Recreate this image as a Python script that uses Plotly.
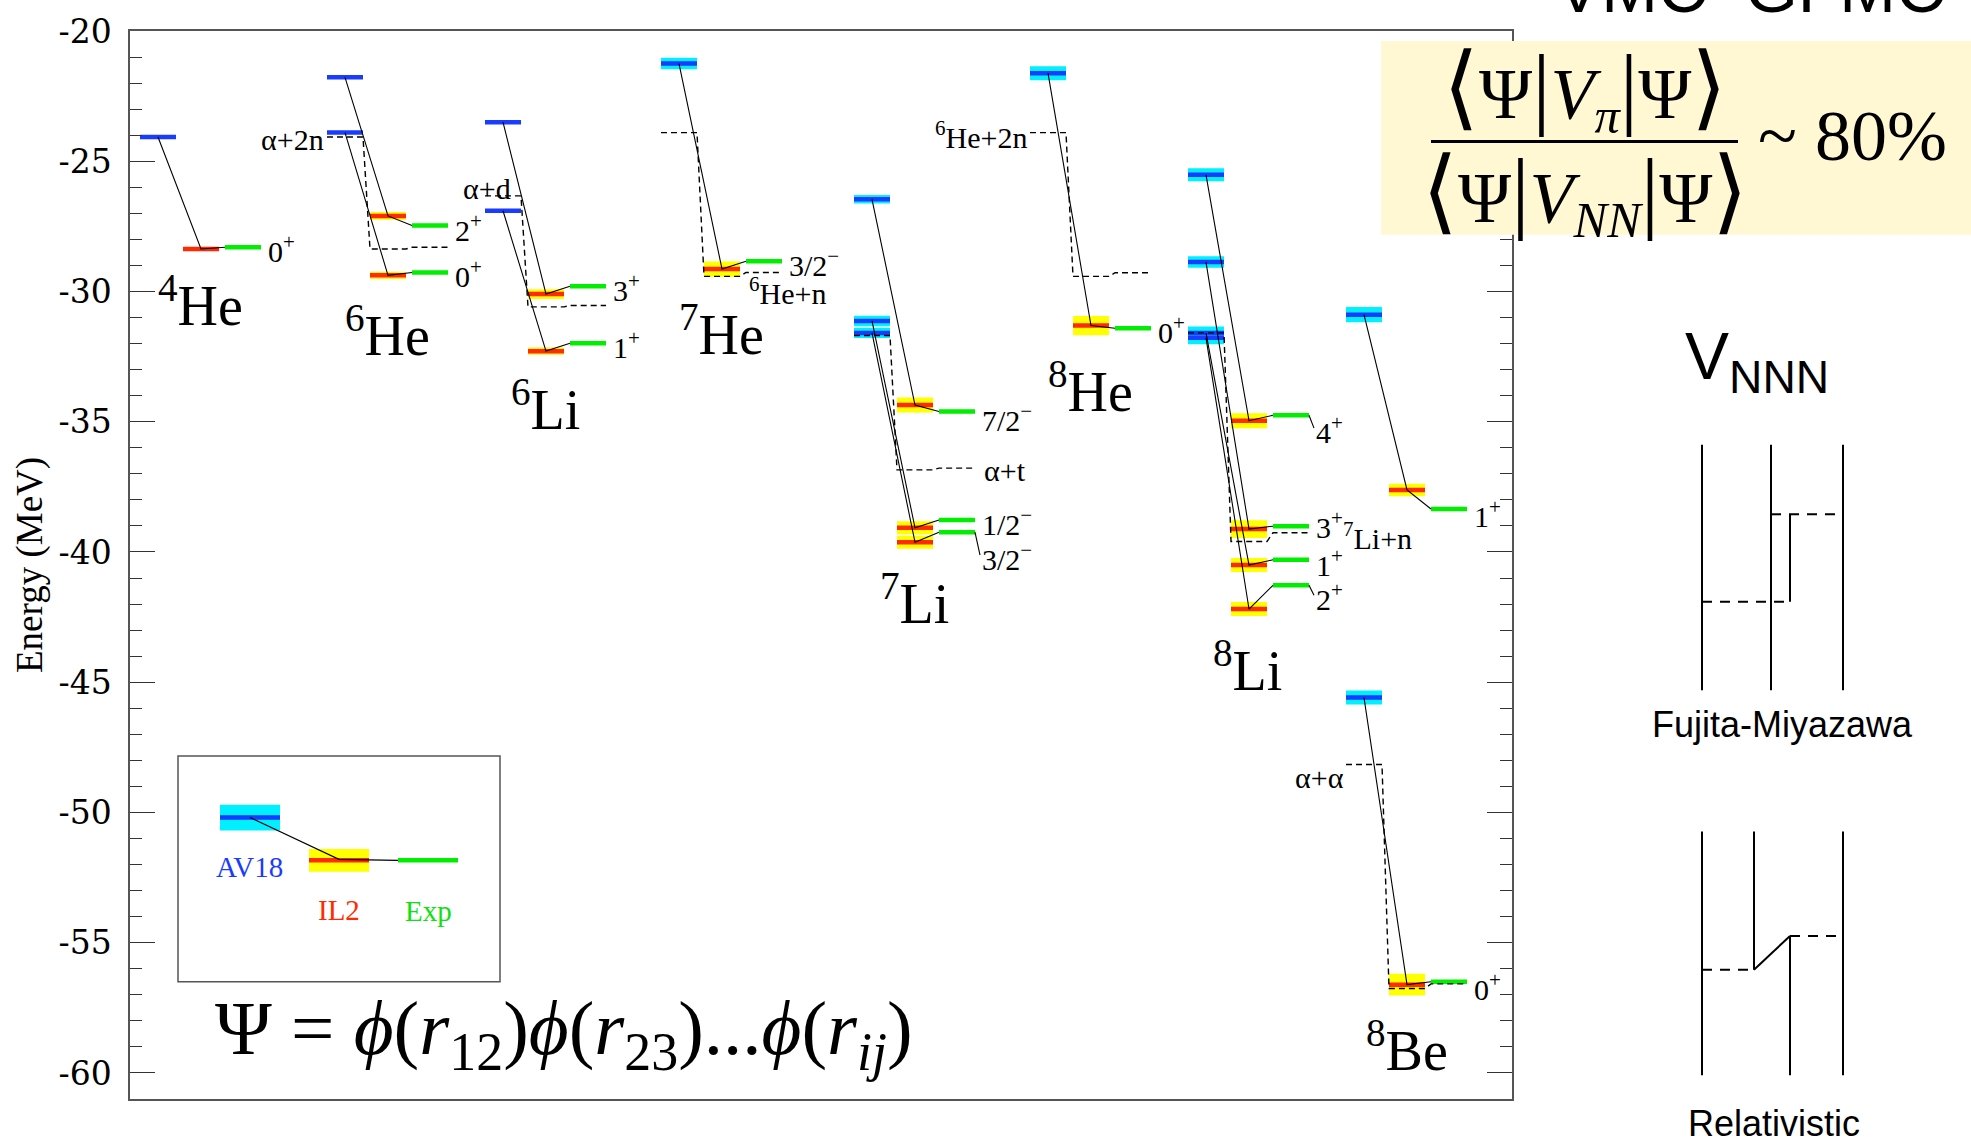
import plotly.graph_objects as go

# ------------------------------------------------------------------ data
nuclei = ["4He", "6He", "6Li", "7He", "7Li", "8He", "8Li", "8Be"]
nucleus_names = ["<sup>4</sup>He", "<sup>6</sup>He", "<sup>6</sup>Li", "<sup>7</sup>He",
                 "<sup>7</sup>Li", "<sup>8</sup>He", "<sup>8</sup>Li", "<sup>8</sup>Be"]

level_nucleus = ["4He", "6He", "6He", "6Li", "6Li", "7He", "7Li", "7Li", "7Li",
                 "8He", "8Li", "8Li", "8Li", "8Li", "8Be", "8Be"]
level_jpi = ["0<sup>+</sup>", "0<sup>+</sup>", "2<sup>+</sup>", "1<sup>+</sup>", "3<sup>+</sup>",
             "3/2<sup>−</sup>", "3/2<sup>−</sup>", "1/2<sup>−</sup>", "7/2<sup>−</sup>",
             "0<sup>+</sup>", "2<sup>+</sup>", "1<sup>+</sup>", "3<sup>+</sup>", "4<sup>+</sup>",
             "1<sup>+</sup>", "0<sup>+</sup>"]
e_av18 = [-24.07, -23.90, -21.78, -26.90, -23.50, -21.25, -31.59, -31.13, -26.46,
          -21.62, -31.78, -31.59, -28.87, -25.52, -30.89, -45.59]
err_av18 = [0.0, 0.05, 0.06, 0.05, 0.05, 0.22, 0.20, 0.20, 0.16,
            0.27, 0.25, 0.25, 0.22, 0.25, 0.29, 0.27]
e_il2 = [-28.37, -29.38, -27.10, -32.29, -30.10, -29.14, -39.63, -39.07, -34.36,
         -31.31, -42.19, -40.50, -39.12, -34.96, -37.62, -56.61]
err_il2 = [0.03, 0.14, 0.15, 0.14, 0.19, 0.29, 0.25, 0.25, 0.29,
           0.37, 0.27, 0.27, 0.34, 0.29, 0.24, 0.42]
e_exp = [-28.30, -29.27, -27.47, -31.99, -29.80, -28.84, -39.24, -38.77, -34.61,
         -31.41, -41.28, -40.30, -39.01, -34.75, -38.35, -56.50]

threshold_nucleus = ["6He", "6Li", "7He", "7Li", "8He", "8Li", "8Be"]
threshold_names = ["α+2n", "α+d", "<sup>6</sup>He+n", "α+t", "<sup>6</sup>He+2n",
                   "<sup>7</sup>Li+n", "α+α"]
thr_av18 = [-24.07, -26.33, -23.90, -31.69, -23.90, -31.59, -48.16]
thr_il2 = [-28.37, -30.59, -29.42, -36.85, -29.42, -39.60, -56.76]
thr_exp = [-28.30, -30.54, -29.27, -36.78, -29.28, -39.26, -56.58]

series_names = ["AV18", "IL2", "Exp"]

y_tick_values = [-60, -55, -50, -45, -40, -35, -30, -25, -20]
y_tick_text = ["-60", "-55", "-50", "-45", "-40", "-35", "-30", "-25", "-20"]
y_title = "Energy (MeV)"

# ------------------------------------------------------------------ layout / style
W, H = 1971, 1144
PL, PR, PT, PB = 130, 1512, 25, 1099   # plot area in pixels
Y_RANGE = [-61, -20]
PX_PER_MEV = (PB - PT) / (Y_RANGE[1] - Y_RANGE[0])

COL_X = {"4He": 10, "6He": 197, "6Li": 355, "7He": 531, "7Li": 724,
         "8He": 900, "8Li": 1058, "8Be": 1216}
BAR_W, IL2_OFF, EXP_OFF = 36, 43, 85

NUC_LABEL_PX = {"4He": (200, 297), "6He": (387, 327), "6Li": (545, 402), "7He": (721, 326),
                "7Li": (914, 597), "8He": (1090, 384), "8Li": (1247, 664), "8Be": (1407, 1046)}
LEVEL_LABEL_DY = [0, 0, 0, 0, 0, 0, 23, 0, 4, 0, 10, 1, -3, 13, 3, 3]
LEVEL_LEADER = [False, False, False, False, False, False, True, False, False,
                False, True, False, False, True, False, False]
# anchor, x offset from column (px), reference level, dy (px)
THR_LABEL = [("right", -2, "av", 0), ("right", 27, "av", -9), ("left", 87, "exp", 17),
             ("left", 129, "exp", 0), ("right", -2, "av", 0), ("left", 154, "exp", 1),
             ("right", -1, "av", 11)]

BLUE, CYAN = "#1a3cff", "#00f0ff"
RED, YELLOW = "#ff2a00", "#ffff00"
GREEN = "#00ee00"
CREAM = "#fff8d2"
SERIF = "Liberation Serif, Times New Roman, serif"
SANS = "Liberation Sans, Arial, sans-serif"


def xpaper(px):
    return (px - PL) / (PR - PL)


def ypaper(py):
    return 1 - (py - PT) / (PB - PT)


def xdata(px):
    return px - PL


def ydata(py):
    return Y_RANGE[1] - (py - PT) / PX_PER_MEV


fig = go.Figure()


def poly_trace(xs, ys, color):
    fig.add_trace(go.Scatter(x=xs, y=ys, mode="lines", fill="toself", fillcolor=color,
                             line=dict(width=0, color=color), hoverinfo="skip", showlegend=False))


def line_trace(xs, ys, color, width, dash="solid"):
    fig.add_trace(go.Scatter(x=xs, y=ys, mode="lines", line=dict(color=color, width=width, dash=dash),
                             hoverinfo="skip", showlegend=False))


# halos
for off, energies, errs, color in [(0, e_av18, err_av18, CYAN), (IL2_OFF, e_il2, err_il2, YELLOW)]:
    xs, ys = [], []
    for n, e, er in zip(level_nucleus, energies, errs):
        if er <= 0:
            continue
        x0 = COL_X[n] + off
        x1 = x0 + BAR_W
        xs += [x0, x1, x1, x0, x0, None]
        ys += [e - er, e - er, e + er, e + er, e - er, None]
    poly_trace(xs, ys, color)

# bars
for off, energies, color in [(0, e_av18, BLUE), (IL2_OFF, e_il2, RED), (EXP_OFF, e_exp, GREEN)]:
    xs, ys = [], []
    for n, e in zip(level_nucleus, energies):
        x0 = COL_X[n] + off
        xs += [x0, x0 + BAR_W, None]
        ys += [e, e, None]
    line_trace(xs, ys, color, 4.5)

# connectors
xs, ys = [], []
for n, a, b, c in zip(level_nucleus, e_av18, e_il2, e_exp):
    x0 = COL_X[n]
    xs += [x0 + BAR_W / 2, x0 + IL2_OFF + BAR_W / 2, x0 + EXP_OFF, None]
    ys += [a, b, c, None]
line_trace(xs, ys, "black", 1.1)

# thresholds (dashed)
xs, ys = [], []
for n, a, b, c in zip(threshold_nucleus, thr_av18, thr_il2, thr_exp):
    x0 = COL_X[n]
    xs += [x0, x0 + BAR_W, x0 + IL2_OFF, x0 + IL2_OFF + BAR_W, x0 + EXP_OFF, x0 + EXP_OFF + BAR_W, None]
    ys += [a, a, b, b, c, c, None]
line_trace(xs, ys, "black", 1.4, dash="6px,4px")

# leader lines for offset labels
xs, ys = [], []
for n, e, dy, lead in zip(level_nucleus, e_exp, LEVEL_LABEL_DY, LEVEL_LEADER):
    if lead:
        xe = COL_X[n] + EXP_OFF + BAR_W
        xs += [xe, xe + 5, None]
        ys += [e, e - dy / PX_PER_MEV, None]
line_trace(xs, ys, "black", 1.1)

annotations = []


def ann(x, y, text, size, family=SERIF, color="black", xanchor="center", yanchor="middle",
        xref="x", yref="y", yshift=0, xshift=0, textangle=0):
    annotations.append(dict(x=x, y=y, xref=xref, yref=yref, text=text, showarrow=False,
                            font=dict(size=size, family=family, color=color),
                            xanchor=xanchor, yanchor=yanchor, yshift=yshift, xshift=xshift,
                            textangle=textangle, borderpad=0))


# level labels
for n, jpi, e, dy, lead in zip(level_nucleus, level_jpi, e_exp, LEVEL_LABEL_DY, LEVEL_LEADER):
    xe = COL_X[n] + EXP_OFF + BAR_W
    ann(xe + 6, e, jpi, 30, xanchor="left", yshift=-(dy + 2))

# threshold labels
for n, name, a, c, spec in zip(threshold_nucleus, threshold_names, thr_av18, thr_exp, THR_LABEL):
    anchor, dx, ref, dy = spec
    e = a if ref == "av" else c
    ann(COL_X[n] + dx, e, name, 30, xanchor=anchor, yshift=-(dy + 2))

# nucleus labels
for n, name in zip(nuclei, nucleus_names):
    px, py = NUC_LABEL_PX[n]
    ann(xdata(px), ydata(py), name, 56)

# y-axis title
ann(xpaper(30), 0.5, y_title, 37, xref="paper", yref="paper", textangle=-90)

shapes = []

# legend box
shapes.append(dict(type="rect", xref="paper", yref="paper", x0=xpaper(178), x1=xpaper(500),
                   y0=ypaper(981), y1=ypaper(754), line=dict(color="#555", width=1.5),
                   fillcolor="rgba(0,0,0,0)", layer="above"))
lg = [(220, 816, 13, CYAN, BLUE), (309, 859, 11.5, YELLOW, RED)]
for x0, yc, hh, hc, bc in lg:
    shapes.append(dict(type="rect", xref="paper", yref="paper", x0=xpaper(x0), x1=xpaper(x0 + 60),
                       y0=ypaper(yc + hh), y1=ypaper(yc - hh), line=dict(width=0), fillcolor=hc, layer="above"))
    shapes.append(dict(type="line", xref="paper", yref="paper", x0=xpaper(x0), x1=xpaper(x0 + 60),
                       y0=ypaper(yc), y1=ypaper(yc), line=dict(color=bc, width=4.5), layer="above"))
shapes.append(dict(type="line", xref="paper", yref="paper", x0=xpaper(398), x1=xpaper(458),
                   y0=ypaper(859), y1=ypaper(859), line=dict(color=GREEN, width=4.5), layer="above"))
shapes.append(dict(type="path", xref="paper", yref="paper",
                   path="M {} {} L {} {} L {} {}".format(xpaper(250), ypaper(816), xpaper(339), ypaper(858),
                                                         xpaper(398), ypaper(859)),
                   line=dict(color="black", width=1.1), layer="above"))
ann(xpaper(249), ypaper(866), series_names[0], 29, color=BLUE, xref="paper", yref="paper")
ann(xpaper(339), ypaper(909), series_names[1], 29, color=RED, xref="paper", yref="paper")
ann(xpaper(428), ypaper(910), series_names[2], 29, color="#11e011", xref="paper", yref="paper")

# wavefunction formula
ann(xpaper(564), ypaper(1033),
    "Ψ = <i>ϕ</i>(<i>r</i><sub>12</sub>)<i>ϕ</i>(<i>r</i><sub>23</sub>)...<i>ϕ</i>(<i>r</i><sub><i>ij</i></sub>)",
    77, family="Liberation Serif", xref="paper", yref="paper")

# cream box with ratio formula
BIG = '<span style="font-size:92px">{}</span>'
shapes.append(dict(type="rect", xref="paper", yref="paper", x0=xpaper(1381), x1=xpaper(1990),
                   y0=ypaper(230), y1=ypaper(35), line=dict(width=0), fillcolor=CREAM, layer="above"))
shapes.append(dict(type="line", xref="paper", yref="paper", x0=xpaper(1431), x1=xpaper(1738),
                   y0=ypaper(136), y1=ypaper(136), line=dict(color="black", width=3), layer="above"))
num = BIG.format("⟨") + "Ψ" + BIG.format("|") + "<i>V</i><sub><i>π</i></sub>" + BIG.format("|") + "Ψ" + BIG.format("⟩")
den = BIG.format("⟨") + "Ψ" + BIG.format("|") + "<i>V</i><sub><i>NN</i></sub>" + BIG.format("|") + "Ψ" + BIG.format("⟩")
ann(xpaper(1585), ypaper(84), num, 72, xref="paper", yref="paper")
ann(xpaper(1585), ypaper(189), den, 72, xref="paper", yref="paper")
ann(xpaper(1757), ypaper(131), "~ 80%", 72, xref="paper", yref="paper", xanchor="left")

# cropped heading at the very top
ann(xpaper(1750), ypaper(21), "VMC  GFMC", 68, family=SANS, xref="paper", yref="paper", yanchor="bottom")

# V_NNN diagrams
ann(xpaper(1684), ypaper(357), "V<sub>NNN</sub>", 66, family=SANS, xref="paper", yref="paper", xanchor="left")


def seg(x0, y0, x1, y1, dash="solid"):
    shapes.append(dict(type="line", xref="paper", yref="paper", x0=xpaper(x0), x1=xpaper(x1),
                       y0=ypaper(y0), y1=ypaper(y1), line=dict(color="black", width=2, dash=dash),
                       layer="above"))


for xv in (1702, 1771, 1843):
    seg(xv, 441, xv, 688)
seg(1771, 511, 1843, 511, "10px,8px")
seg(1702, 599, 1790, 599, "10px,8px")
seg(1790, 511, 1790, 599)
ann(xpaper(1782), ypaper(722), "Fujita-Miyazawa", 36, family=SANS, xref="paper", yref="paper")

seg(1702, 830, 1702, 1075)
seg(1754, 830, 1754, 969)
seg(1790, 935, 1790, 1075)
seg(1843, 830, 1843, 1075)
seg(1754, 969, 1790, 935)
seg(1702, 969, 1754, 969, "10px,8px")
seg(1790, 935, 1843, 935, "10px,8px")
ann(xpaper(1774), ypaper(1124), "Relativistic", 36, family=SANS, xref="paper", yref="paper")

fig.update_layout(
    width=W, height=H,
    margin=dict(l=PL, r=W - PR, t=PT, b=H - PB, pad=0),
    paper_bgcolor="white", plot_bgcolor="white",
    showlegend=False,
    xaxis=dict(range=[0, PR - PL], showticklabels=False, ticks="", showgrid=False, zeroline=False,
               showline=True, linecolor="#555", linewidth=1.5, mirror=True, fixedrange=True),
    yaxis=dict(range=Y_RANGE, tickvals=y_tick_values, ticktext=y_tick_text, ticks="inside",
               ticklen=25, tickwidth=1.2, tickcolor="#333", showline=True, linecolor="#555",
               linewidth=1.5, mirror="allticks", showgrid=False, zeroline=False,
               tickfont=dict(family="DejaVu Serif", size=33, color="black"),
               ticklabelstandoff=10, ticklabeloverflow="allow", fixedrange=True,
               minor=dict(ticks="inside", ticklen=12, tickwidth=1.2, tickcolor="#333",
                          dtick=1, tick0=-60, showgrid=False)),
    annotations=annotations,
    shapes=shapes,
)

fig.write_html("out.html", config={"displayModeBar": False},
               post_script="document.body.style.margin='0';document.body.style.overflow='hidden';")
